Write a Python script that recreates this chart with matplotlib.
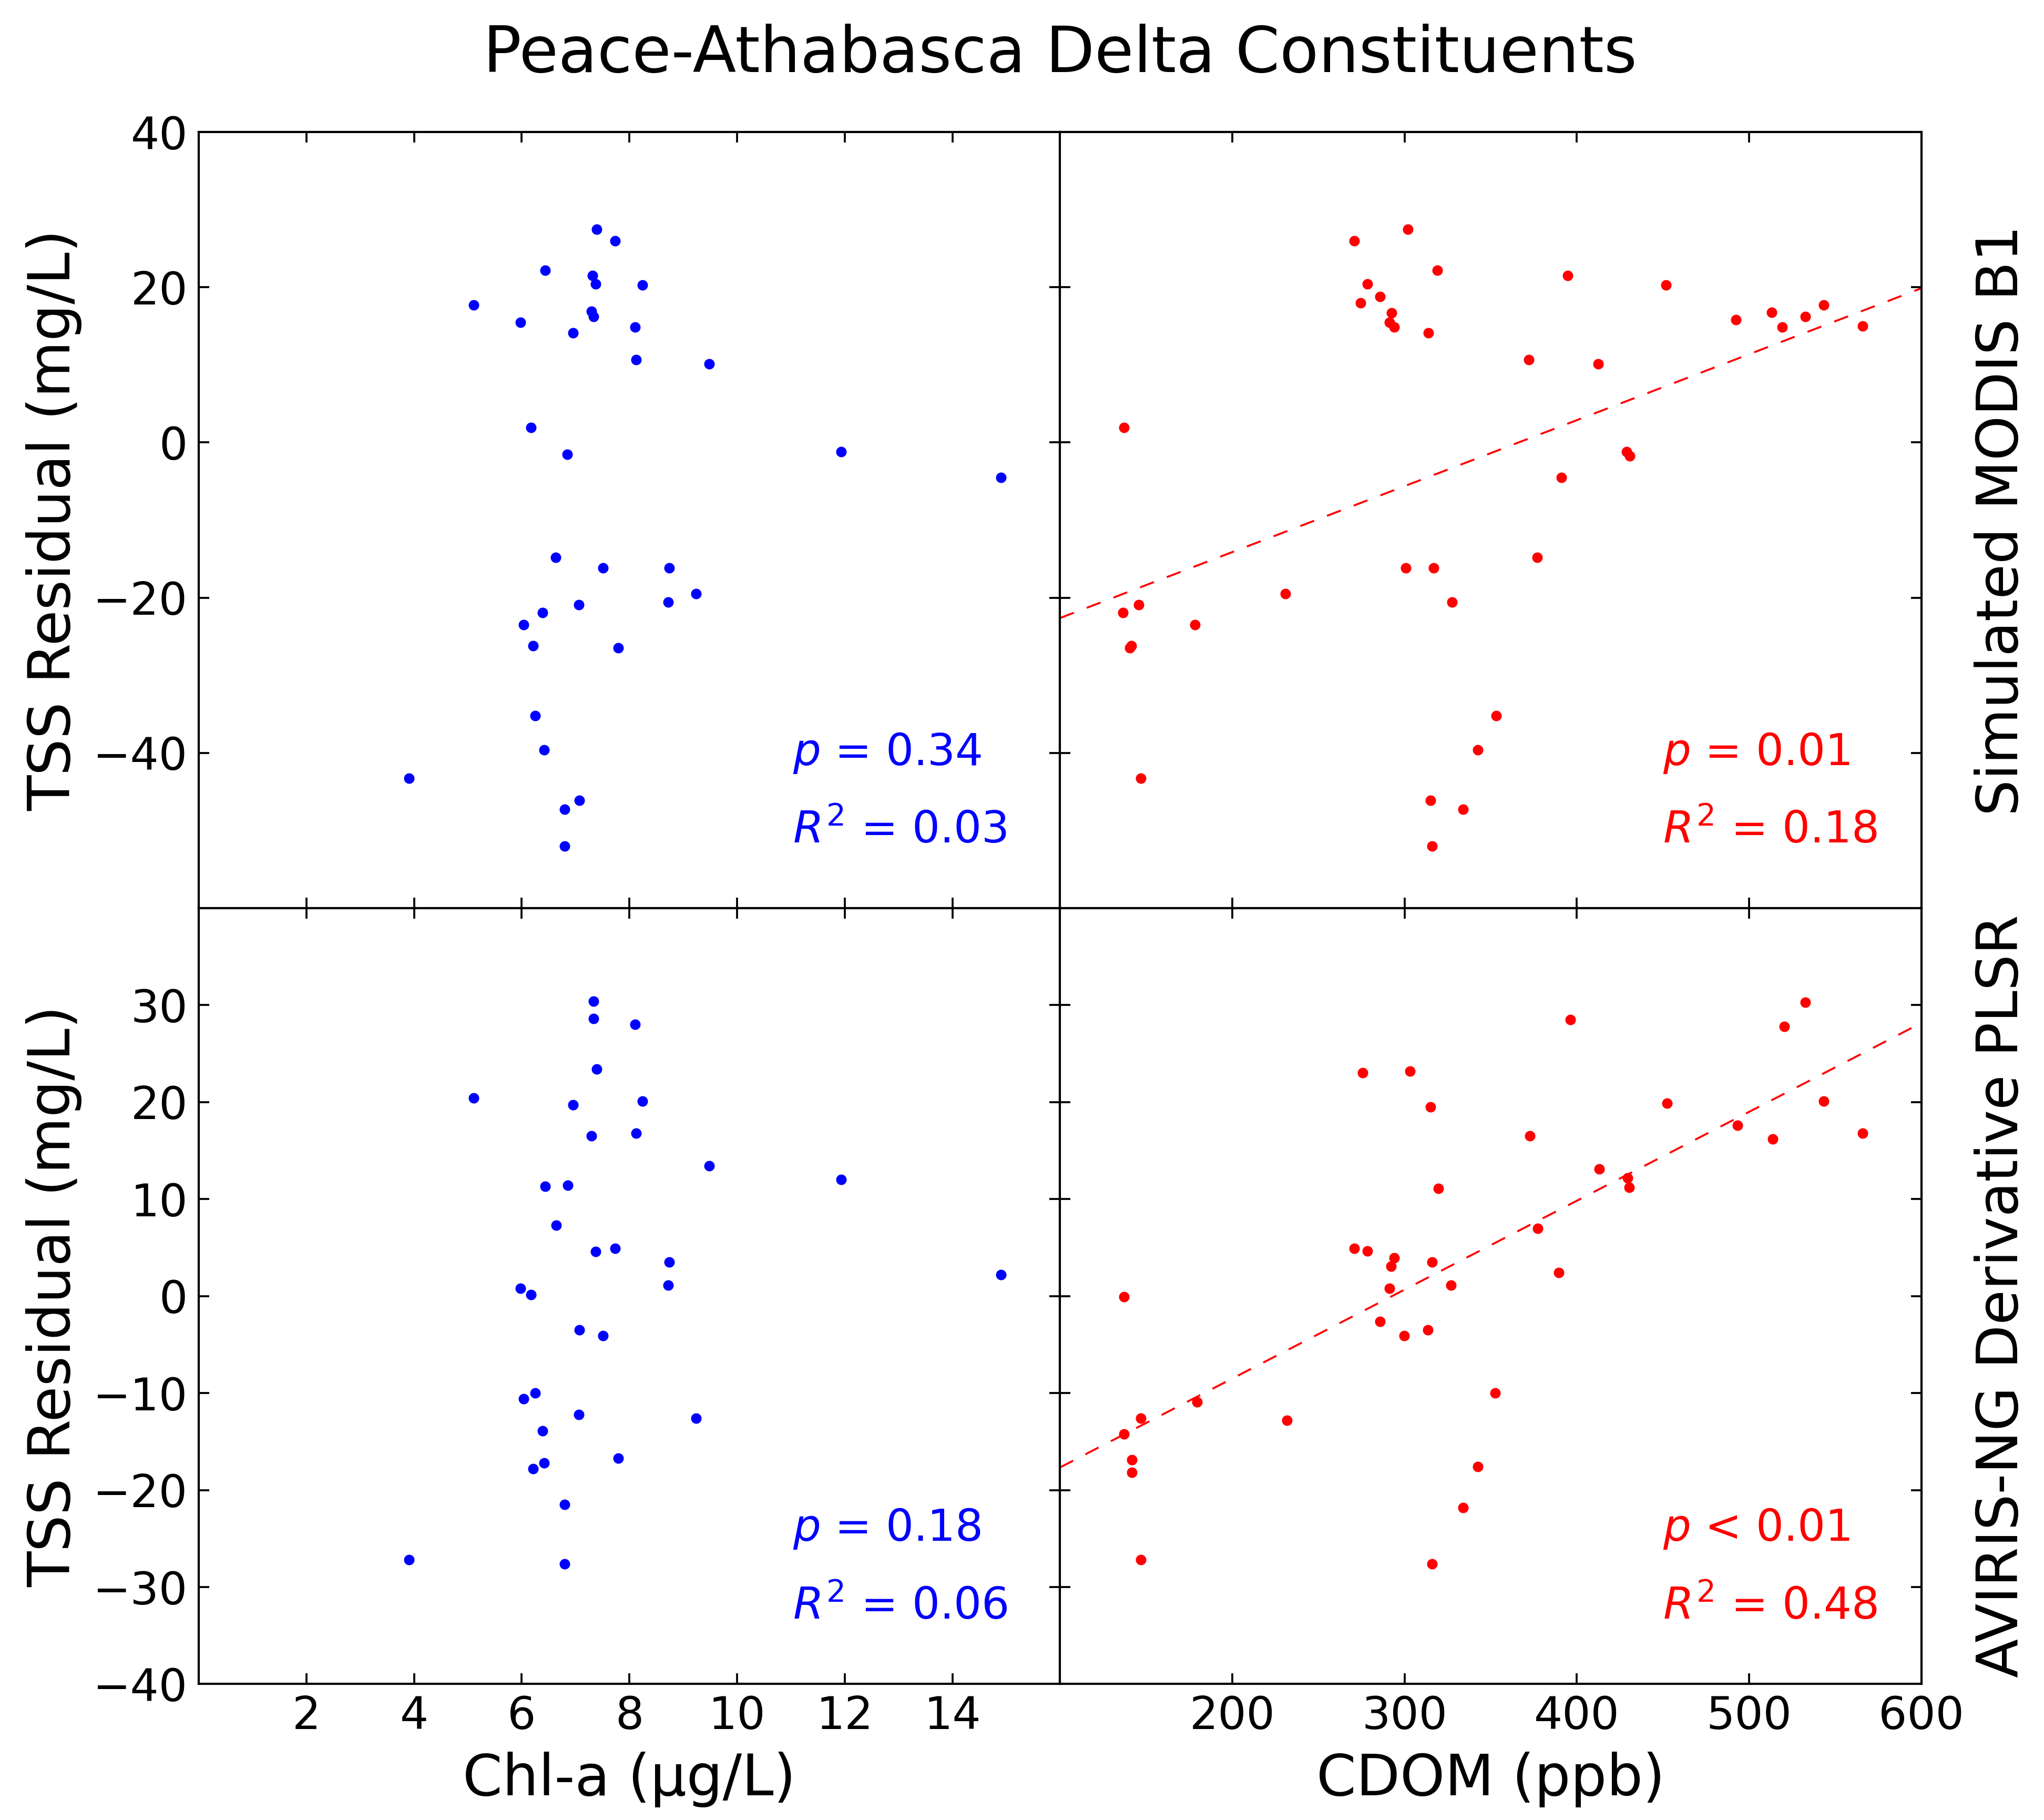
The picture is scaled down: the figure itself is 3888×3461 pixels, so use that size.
import numpy as np
import matplotlib
matplotlib.use('Agg')
import matplotlib.pyplot as plt

# values
chl_modis = [7.39, 7.74, 6.44, 7.32, 7.37, 8.24, 5.11, 7.30, 7.33, 5.98, 8.11, 6.95, 8.13, 9.48,
             6.63, 7.51, 8.74, 9.24, 8.72, 7.06, 6.39, 6.04, 6.21, 7.79, 6.25,
             6.42, 7.07, 6.80, 6.80, 3.91, 6.17, 6.85, 11.93, 14.90]
resid_modis_chl = [27.5, 26.0, 22.2, 21.5, 20.4, 20.3, 17.7, 16.9, 16.2, 15.5, 14.9, 14.1, 10.7, 10.1,
                   -14.8, -16.2, -16.2, -19.5, -20.6, -20.9, -21.9, -23.5, -26.2, -26.5, -35.2,
                   -39.6, -46.1, -47.3, -52.0, -43.3, 1.9, -1.5, -1.2, -4.5]

cdom_modis = [270.8, 301.8, 318.9, 278.4, 285.8, 274.5, 292.5, 291.3, 293.9, 313.9,
              394.8, 451.8, 492.3, 513.2, 519.2, 372.0, 412.3, 532.6, 543.2, 565.9,
              145.7, 136.5, 178.3, 140.5, 141.5, 230.8, 300.6, 316.8, 327.7, 377.1, 353.3,
              137.0, 391.0, 429.0, 430.6,
              147.0, 342.4, 315.0, 334.0, 316.0]
resid_modis_cdom = [26.0, 27.5, 22.2, 20.4, 18.8, 18.0, 16.7, 15.5, 14.9, 14.1,
                    21.5, 20.3, 15.8, 16.8, 14.9, 10.7, 10.1, 16.2, 17.7, 15.0,
                    -20.9, -21.9, -23.5, -26.5, -26.2, -19.5, -16.2, -16.2, -20.6, -14.8, -35.2,
                    1.9, -4.5, -1.2, -1.7,
                    -43.3, -39.6, -46.1, -47.3, -52.0]

chl_aviris = [7.33, 7.33, 8.11, 7.39, 5.11, 6.95, 8.24, 7.30, 8.13, 9.48,
              6.44, 6.86, 6.64, 7.37, 7.74, 8.74, 8.72, 5.98, 6.17,
              7.07, 7.51, 6.25, 6.04, 7.06, 9.24, 6.39, 6.42, 6.21, 7.79, 6.80,
              6.80, 3.91, 11.93, 14.90]
resid_aviris_chl = [30.4, 28.6, 28.0, 23.4, 20.4, 19.7, 20.1, 16.5, 16.8, 13.4,
                    11.3, 11.4, 7.3, 4.6, 4.9, 3.5, 1.1, 0.8, 0.15,
                    -3.5, -4.1, -10.0, -10.6, -12.2, -12.6, -13.9, -17.2, -17.8, -16.7, -21.5,
                    -27.6, -27.2, 12.0, 2.2]

cdom_aviris = [270.7, 278.3, 293.9, 292.3, 316.0, 389.5, 291.2, 326.9, 285.7, 299.9, 313.6, 352.6,
               275.8, 303.0, 315.2, 319.7, 372.7, 396.2, 377.3, 412.9, 429.5, 430.3, 452.3,
               493.2, 513.6, 520.5, 532.6, 543.2, 565.9,
               137.1, 137.1, 147.0, 141.7, 141.7, 147.0, 179.5, 231.8, 342.4, 334.1, 315.9]
resid_aviris_cdom = [4.9, 4.65, 3.95, 3.05, 3.5, 2.4, 0.8, 1.1, -2.6, -4.1, -3.5, -10.0,
                     23.0, 23.2, 19.5, 11.1, 16.5, 28.5, 7.0, 13.1, 12.2, 11.2, 19.9,
                     17.6, 16.2, 27.8, 30.3, 20.1, 16.8,
                     -0.1, -14.2, -12.6, -16.9, -18.2, -27.2, -10.9, -12.8, -17.6, -21.8, -27.6]

stats_text = {
    (0, 0): ('$p$ = 0.34', '$R^2$ = 0.03'),
    (0, 1): ('$p$ = 0.01', '$R^2$ = 0.18'),
    (1, 0): ('$p$ = 0.18', '$R^2$ = 0.06'),
    (1, 1): ('$p$ < 0.01', '$R^2$ = 0.48'),
}

fig, axes = plt.subplots(2, 2, figsize=(12.96, 11.537), dpi=300)
fig.subplots_adjust(left=0.0972, right=0.94, top=0.9274, bottom=0.0747,
                    wspace=0, hspace=0)

panels = {
    (0, 0): (chl_modis, resid_modis_chl, 'blue', False),
    (0, 1): (cdom_modis, resid_modis_cdom, 'red', True),
    (1, 0): (chl_aviris, resid_aviris_chl, 'blue', False),
    (1, 1): (cdom_aviris, resid_aviris_cdom, 'red', True),
}

for (r, c), (x, y, col, fit) in panels.items():
    ax = axes[r, c]
    ax.plot(x, y, 'o', color=col, markersize=4.8, markeredgewidth=0)

    if c == 0:
        ax.set_xlim(0, 16)
        ax.set_xticks(range(2, 16, 2))
    else:
        ax.set_xlim(100, 600)
        ax.set_xticks(range(200, 700, 100))
    if r == 0:
        ax.set_ylim(-60, 40)
        ax.set_yticks(range(-40, 60, 20))
    else:
        ax.set_ylim(-40, 40)
        ax.set_yticks(range(-40, 40, 10))

    if fit:
        # least-squares line across the full x range
        m, b = np.polyfit(x, y, 1)
        xx = np.array(ax.get_xlim())
        ax.plot(xx, m * xx + b, color='red', lw=0.9, linestyle=(0, (7.5, 7)))
        ax.set_xlim(xx)

    ax.tick_params(direction='in', top=True, right=True, length=4.8, width=0.9,
                   labelsize=20.5, pad=5, labelbottom=(r == 1), labelleft=(c == 0))
    for sp in ax.spines.values():
        sp.set_linewidth(1.0)

    t1, t2 = stats_text[(r, c)]
    tx = 0.69 if c == 0 else 0.70
    ax.text(tx, 0.20, t1, transform=ax.transAxes,
            color=col, fontsize=20, va='center', ha='left')
    ax.text(tx, 0.10, t2, transform=ax.transAxes,
            color=col, fontsize=20, va='center', ha='left')

axes[0, 0].set_ylabel('TSS Residual (mg/L)', fontsize=26.5, labelpad=5)
axes[1, 0].set_ylabel('TSS Residual (mg/L)', fontsize=26.5, labelpad=5)
axes[1, 0].set_xlabel('Chl-a (µg/L)', fontsize=26, labelpad=6)
axes[1, 1].set_xlabel('CDOM (ppb)', fontsize=26, labelpad=6)

for r, lab in enumerate(['Simulated MODIS B1', 'AVIRIS-NG Derivative PLSR']):
    ax = axes[r, 1]
    ax.yaxis.set_label_position('right')
    ax.set_ylabel(lab, fontsize=26, labelpad=24)

# title centred over the panel block rather than the figure
fig.suptitle('Peace-Athabasca Delta Constituents', fontsize=29,
             x=(0.0972 + 0.94) / 2, y=0.97, va='center')

plt.savefig('out.png', dpi=300)
